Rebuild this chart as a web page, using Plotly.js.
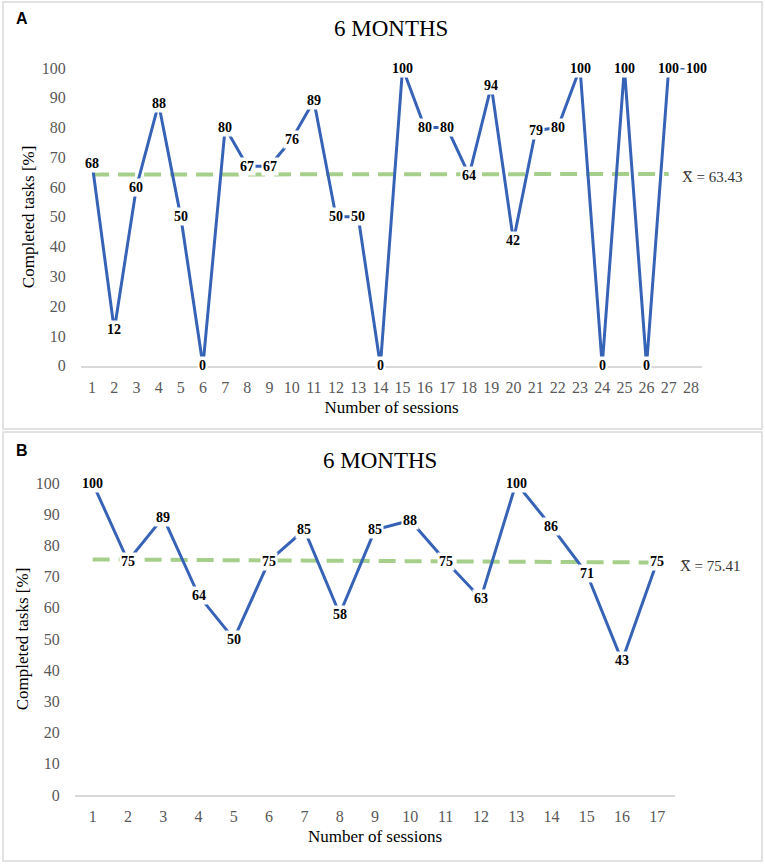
<!DOCTYPE html>
<html>
<head>
<meta charset="utf-8">
<script src="https://cdn.plot.ly/plotly-3.0.1.min.js"></script>
<style>html,body{margin:0;padding:0;background:#fff;}#chart{width:765px;height:864px;}</style>
</head>
<body>
<div id="chart"></div>
<script>
// ---- data ----
const sessionsA = [1,2,3,4,5,6,7,8,9,10,11,12,13,14,15,16,17,18,19,20,21,22,23,24,25,26,27,28];
const valuesA = [68,12,60,88,50,0,80,67,67,76,89,50,50,0,100,80,80,64,94,42,79,80,100,0,100,0,100,100];
const meanLineXA = [1, 27];
const meanLineYA = [64.2, 64.4];
const meanTextA = "X\u0305 = 63.43";

const sessionsB = [1,2,3,4,5,6,7,8,9,10,11,12,13,14,15,16,17];
const valuesB = [100,75,89,64,50,75,85,58,85,88,75,63,100,86,71,43,75];
const meanLineXB = [1, 17.2];
const meanLineYB = [75.5, 74.5];
const meanTextB = "X\u0305 = 75.41";

const yTicks = [0,10,20,30,40,50,60,70,80,90,100];
const chartTitle = "6 MONTHS";
const yTitle = "Completed tasks [%]";
const xTitle = "Number of sessions";

// ---- style ----
const W = 765, H = 864;
const px = v => v / W;
const py = v => 1 - v / H;
const serif = "Liberation Serif, Times New Roman, serif";
const blue = "#3763B7";
const green = "#A6CF8B";
// label nudges (pixels), keyed by point index
const labelShiftA = {27: 6};
const labelShiftB = {};

function labels(xs, ys, xref, yref, shifts) {
  return xs.map((x, i) => ({
    x: x, y: ys[i], xref: xref, yref: yref,
    text: "<b>" + ys[i] + "</b>", showarrow: false,
    font: {family: serif, size: 14, color: "#000"},
    bgcolor: "#fff", borderpad: 1,
    xshift: shifts[i] || 0,
    xanchor: "center", yanchor: "middle"
  }));
}

const dashStyle = {color: green, width: 4, dash: "17px,9px"};
const traces = [
  {x: meanLineXA, y: meanLineYA, xaxis: "x", yaxis: "y", mode: "lines",
   line: dashStyle, hoverinfo: "skip", cliponaxis: false},
  {x: sessionsA, y: valuesA, xaxis: "x", yaxis: "y", mode: "lines",
   line: {color: blue, width: 3}, cliponaxis: false},
  {x: meanLineXB, y: meanLineYB, xaxis: "x2", yaxis: "y2", mode: "lines",
   line: dashStyle, hoverinfo: "skip", cliponaxis: false},
  {x: sessionsB, y: valuesB, xaxis: "x2", yaxis: "y2", mode: "lines",
   line: {color: blue, width: 3}, cliponaxis: false}
];

function xAxis(domain, n, anchor) {
  return {
    domain: domain, anchor: anchor, range: [0.5, n + 0.5],
    tickmode: "linear", tick0: 1, dtick: 1,
    showgrid: false, zeroline: false,
    showline: true, linecolor: "#D9D9D9", linewidth: 2,
    ticks: "outside", ticklen: 6, tickcolor: "rgba(0,0,0,0)",
    tickfont: {family: serif, size: 16, color: "#595959"},
    title: {text: xTitle, font: {family: serif, size: 17, color: "#000"}, standoff: 6},
    fixedrange: true
  };
}
function yAxis(domain, anchor) {
  return {
    domain: domain, anchor: anchor, range: [0, 100],
    tickmode: "array", tickvals: yTicks, ticktext: yTicks.map(String),
    showgrid: false, zeroline: false, showline: false,
    ticks: "outside", ticklen: 11, tickcolor: "rgba(0,0,0,0)",
    tickfont: {family: serif, size: 16, color: "#595959"},
    title: {text: yTitle, font: {family: serif, size: 17, color: "#000"}, standoff: 2},
    fixedrange: true
  };
}

const annotations = [].concat(
  labels(sessionsA, valuesA, "x", "y", labelShiftA),
  labels(sessionsB, valuesB, "x2", "y2", labelShiftB),
  [
    {x: px(22), y: py(18), xref: "paper", yref: "paper", text: "<b>A</b>", showarrow: false,
     font: {family: "Liberation Sans, Arial, sans-serif", size: 16, color: "#000"}, xanchor: "center", yanchor: "middle"},
    {x: px(22), y: py(450), xref: "paper", yref: "paper", text: "<b>B</b>", showarrow: false,
     font: {family: "Liberation Sans, Arial, sans-serif", size: 16, color: "#000"}, xanchor: "center", yanchor: "middle"},
    {x: px(391), y: py(28), xref: "paper", yref: "paper", text: chartTitle, showarrow: false,
     font: {family: serif, size: 23, color: "#000"}, xanchor: "center", yanchor: "middle"},
    {x: px(380), y: py(461), xref: "paper", yref: "paper", text: chartTitle, showarrow: false,
     font: {family: serif, size: 23, color: "#000"}, xanchor: "center", yanchor: "middle"},
    {x: px(680), y: py(177), xref: "paper", yref: "paper", text: meanTextA, showarrow: false,
     font: {family: serif, size: 15, color: "#333"}, xanchor: "left", yanchor: "middle"},
    {x: px(678), y: py(566), xref: "paper", yref: "paper", text: meanTextB, showarrow: false,
     font: {family: serif, size: 15, color: "#333"}, xanchor: "left", yanchor: "middle"}
  ]
);

const layout = {
  width: W, height: H,
  margin: {l: 0, r: 0, t: 0, b: 0},
  paper_bgcolor: "#fff", plot_bgcolor: "rgba(0,0,0,0)",
  showlegend: false,
  xaxis: xAxis([px(81), px(702)], 28, "y"),
  yaxis: yAxis([py(365.7), py(68)], "x"),
  xaxis2: xAxis([px(75), px(675)], 17, "y2"),
  yaxis2: yAxis([py(795), py(483)], "x2"),
  annotations: annotations,
  shapes: [
    {type: "rect", xref: "paper", yref: "paper", x0: px(3), x1: px(762), y0: py(429), y1: py(2),
     line: {color: "#D9D9D9", width: 1.5}, layer: "below"},
    {type: "rect", xref: "paper", yref: "paper", x0: px(3), x1: px(762), y0: py(861), y1: py(432),
     line: {color: "#D9D9D9", width: 1.5}, layer: "below"}
  ]
};

Plotly.newPlot("chart", traces, layout, {displayModeBar: false, staticPlot: true});
</script>
</body>
</html>
